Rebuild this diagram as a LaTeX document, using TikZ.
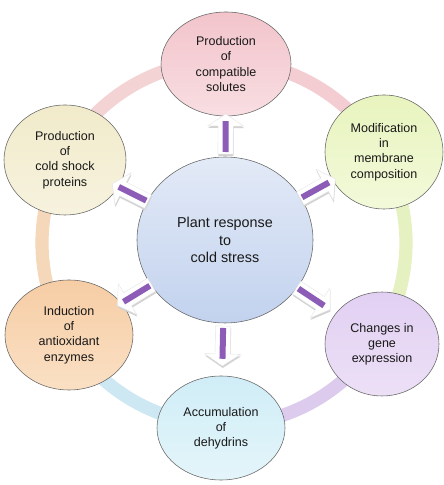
\documentclass[tikz,border=0pt]{standalone}
\usepackage{fontspec}
\setmainfont{Liberation Sans}
\usetikzlibrary{shapes.geometric,calc}
\definecolor{barpurple}{HTML}{8C5CB7}
\definecolor{ringpink}{HTML}{F4CDD3}
\definecolor{ringgreen}{HTML}{E5F1C0}
\definecolor{ringlav}{HTML}{DDCBEE}
\definecolor{ringcyan}{HTML}{CDE8F2}
\definecolor{ringpeach}{HTML}{F5D7B9}
\definecolor{ringrose}{HTML}{F3D3D3}
\begin{document}
\begin{tikzpicture}[every node/.style={font=\fontsize{8.9}{10.8}\selectfont,align=center,text=black!90},
bubble/.style={ellipse,draw=black!60,line width=0.4pt,inner sep=0pt},
ringseg/.style={line width=0.33cm}]
\useasboundingbox (0,0) rectangle (11.075,12.125);
\coordinate (mid) at (5.6,6.05);
% coloured ring behind the bubbles
\foreach \a/\b/\col in {90/30/ringpink,30/-30/ringgreen,-30/-90/ringlav,-90/-150/ringcyan,-150/-210/ringpeach,150/90/ringrose} {\draw[ringseg,\col] ($(mid)+(\a:4.55)$) arc[start angle=\a,end angle=\b,radius=4.55];}
% centre
\node[bubble,minimum width=4.4cm,minimum height=4.15cm,top color={rgb,255:red,227;green,234;blue,247},bottom color={rgb,255:red,194;green,210;blue,238},font=\fontsize{10.2}{12.4}\selectfont] (hub) at (5.625,6.125) {Plant response\\to\\cold stress};
% outer bubbles
\node[bubble,minimum width=3.25cm,minimum height=2.6cm,top color={rgb,255:red,242;green,196;blue,203},bottom color={rgb,255:red,248;green,222;blue,226}] (solute) at (5.65,10.525) {Production\\of\\compatible\\solutes};
\node[bubble,minimum width=2.95cm,minimum height=2.85cm,top color={rgb,255:red,232;green,244;blue,190},bottom color={rgb,255:red,242;green,249;blue,218}] (membr) at (9.6,8.325) {Modification\\in\\membrane\\composition};
\node[bubble,minimum width=2.85cm,minimum height=2.6cm,top color={rgb,255:red,226;green,208;blue,243},bottom color={rgb,255:red,236;green,224;blue,246}] (gene) at (9.55,3.525) {Changes in\\gene\\expression};
\node[bubble,minimum width=3.2cm,minimum height=2.6cm,top color={rgb,255:red,208;green,237;blue,247},bottom color={rgb,255:red,228;green,245;blue,250}] (dehyd) at (5.525,1.425) {Accumulation\\of\\dehydrins};
\node[bubble,minimum width=3.2cm,minimum height=2.75cm,top color={rgb,255:red,246;green,205;blue,165},bottom color={rgb,255:red,250;green,224;blue,196}] (antiox) at (1.725,3.75) {Induction\\of\\antioxidant\\enzymes};
\node[bubble,minimum width=3.05cm,minimum height=2.75cm,top color={rgb,255:red,241;green,235;blue,203},bottom color={rgb,255:red,247;green,242;blue,222}] (shock) at (1.625,8.125) {Production\\of\\cold shock\\proteins};
% block arrows from the hub outwards
\foreach \n in {solute,membr,gene,dehyd,antiox,shock} {\pgfmathanglebetweenpoints{\pgfpointanchor{hub}{center}}{\pgfpointanchor{\n}{center}}\let\ang\pgfmathresult
\fill[gray!35,shift={($(hub.center)+(0.01,-0.05)$)},rotate=\ang] (2.15,-0.19) -- (2.85,-0.19) -- (2.85,-0.45) -- (3.15,0) -- (2.85,0.45) -- (2.85,0.19) -- (2.15,0.19) -- cycle;
\filldraw[fill=white,draw=gray!20,line width=0.3pt,shift={(hub.center)},rotate=\ang] (2.15,-0.19) -- (2.85,-0.19) -- (2.85,-0.45) -- (3.15,0) -- (2.85,0.45) -- (2.85,0.19) -- (2.15,0.19) -- cycle;
\fill[barpurple,shift={(hub.center)},rotate=\ang] (2.2,-0.075) rectangle (2.97,0.075);}
\end{tikzpicture}
\end{document}
